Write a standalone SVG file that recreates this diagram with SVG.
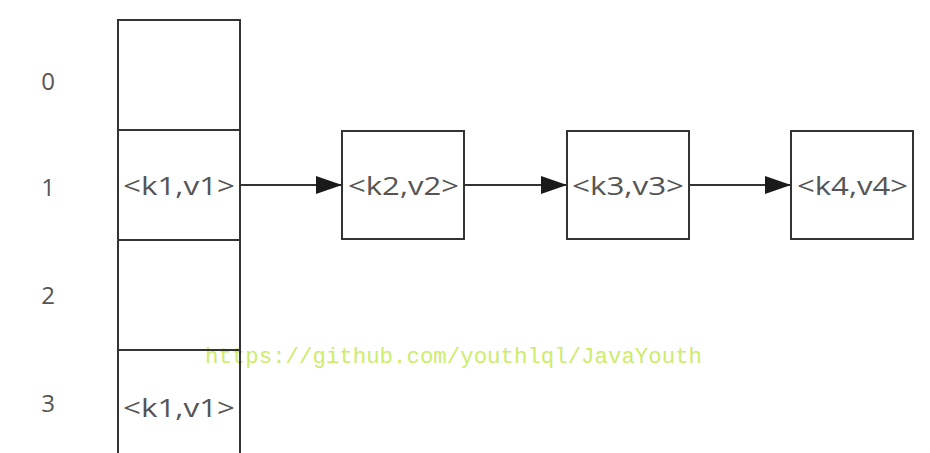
<svg xmlns="http://www.w3.org/2000/svg" width="930" height="453" viewBox="0 0 930 453">
<style>
.box{fill:#fff;stroke:#333;stroke-width:2}
.lbl{font-family:"Open Sans","Noto Sans","Liberation Sans",sans-serif;font-size:26px;fill:#555}
.idx{font-family:"Open Sans","Noto Sans","Liberation Sans",sans-serif;font-size:24px;fill:#555;text-anchor:middle}
.edge{stroke:#333;stroke-width:2;fill:none}
.wm{font-family:"Liberation Mono","DejaVu Sans Mono",monospace;font-size:22px;fill:#cdec6c}
</style>
<defs>
<marker id="arr" markerUnits="userSpaceOnUse" markerWidth="26" markerHeight="18" refX="26" refY="9" orient="auto">
<path d="M0,0 L26,9 L0,18 Z" fill="#1a1a1a"/>
</marker>
</defs>
<rect width="930" height="453" fill="#fff"/>
<g id="indices">
<text class="idx" x="48" y="90">0</text>
<text class="idx" x="48" y="196">1</text>
<text class="idx" x="48" y="304">2</text>
<text class="idx" x="48" y="412">3</text>
</g>
<text class="wm" x="205" y="363" textLength="497" lengthAdjust="spacingAndGlyphs">https://github.com/youthlql/JavaYouth</text>
<g id="bucket0"><rect class="box" x="118" y="20" width="122" height="110" fill-opacity="0"/></g>
<g id="bucket1"><rect class="box" x="118" y="130" width="122" height="110" fill-opacity="0"/>
<text class="lbl" x="123" y="195" textLength="112" lengthAdjust="spacingAndGlyphs">&lt;k1,v1&gt;</text></g>
<g id="bucket2"><rect class="box" x="118" y="240" width="122" height="110" fill-opacity="0"/></g>
<g id="bucket3"><rect class="box" x="118" y="350" width="122" height="120" fill-opacity="0"/>
<text class="lbl" x="123" y="417" textLength="112" lengthAdjust="spacingAndGlyphs">&lt;k1,v1&gt;</text></g>
<g id="k2"><rect class="box" x="342" y="131" width="122" height="108"/>
<text class="lbl" x="348" y="195" textLength="111" lengthAdjust="spacingAndGlyphs">&lt;k2,v2&gt;</text></g>
<g id="k3"><rect class="box" x="567" y="131" width="122" height="108"/>
<text class="lbl" x="572" y="195" textLength="112" lengthAdjust="spacingAndGlyphs">&lt;k3,v3&gt;</text></g>
<g id="k4"><rect class="box" x="791" y="131" width="122" height="108"/>
<text class="lbl" x="797" y="195" textLength="111" lengthAdjust="spacingAndGlyphs">&lt;k4,v4&gt;</text></g>
<g id="connectors">
<line class="edge" x1="240" y1="185" x2="342" y2="185" marker-end="url(#arr)"/>
<line class="edge" x1="464" y1="185" x2="567" y2="185" marker-end="url(#arr)"/>
<line class="edge" x1="689" y1="185" x2="791" y2="185" marker-end="url(#arr)"/>
</g>
</svg>
